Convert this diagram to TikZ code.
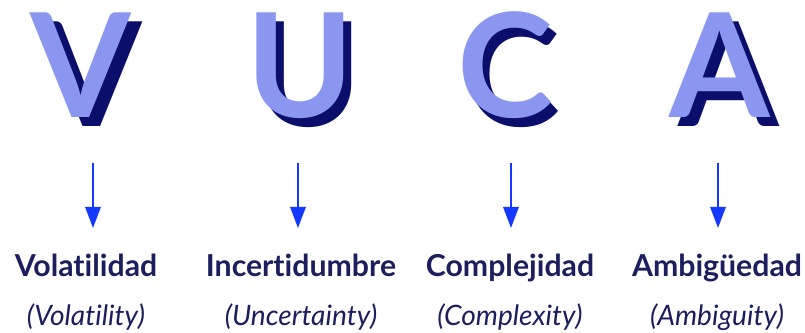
\documentclass[tikz,border=0pt]{standalone}
\usepackage{fontspec}
\setmainfont{Lato}[Ligatures={NoCommon,NoRare}]
\usetikzlibrary{arrows.meta,positioning}
\definecolor{vucalight}{HTML}{8A96F0}
\definecolor{vucadark}{HTML}{0B0E6B}
\definecolor{vucaarrow}{HTML}{1538FF}
\definecolor{vucatext}{HTML}{1C1E5E}
\tikzset{
    letter/.style = {inner sep=0pt, anchor=base, font=\fontsize{103}{103}\selectfont\bfseries, text=vucalight},
    letterback/.style = {letter, text=vucadark},
    term/.style = {inner sep=0pt, anchor=base, font=\fontsize{21.5}{21.5}\selectfont\bfseries, text=vucatext},
    gloss/.style = {inner sep=0pt, anchor=base, font=\fontsize{20}{20}\selectfont\itshape, text=vucatext},
    pointer/.style = {draw=vucaarrow, line width=1.4pt, -{Triangle[length=15pt,width=11pt]}}
}

\begin{document}
\begin{tikzpicture}[x=0.025cm, y=-0.025cm]
    \useasboundingbox (0,0) rectangle (805,332);

    % Letters (shadow first)
    \node [letterback] (v-back) at (92,126) {V};
    \node [letter] (v-letter) at (81,117) {V};
    \node [letterback] (u-back) at (308,126) {U};
    \node [letter] (u-letter) at (300,117) {U};
    \node [letterback] (c-back) at (512,126) {C};
    \node [letter] (c-letter) at (505,117) {C};
    \node [letterback] (a-back) at (729,126) {A};
    \node [letter] (a-letter) at (720,117) {A};

    % Arrows
    \coordinate (v-top) at (93,163);
    \coordinate (v-tip) at (93,228);
    \coordinate (u-top) at (298,163);
    \coordinate (u-tip) at (298,228);
    \coordinate (c-top) at (511,163);
    \coordinate (c-tip) at (511,228);
    \coordinate (a-top) at (718,163);
    \coordinate (a-tip) at (718,228);
    \draw [pointer] (v-top) -- (v-tip);
    \draw [pointer] (u-top) -- (u-tip);
    \draw [pointer] (c-top) -- (c-tip);
    \draw [pointer] (a-top) -- (a-tip);

    % Labels
    \node [term] (v-term) at (86,276) {Volatilidad};
    \node [term] (u-term) at (301,276) {Incertidumbre};
    \node [term] (c-term) at (510,276) {Complejidad};
    \node [term] (a-term) at (717,276) {Ambigüedad};
    \node [gloss] (v-gloss) at (86,325) {(Volatility)};
    \node [gloss] (u-gloss) at (301,325) {(Uncertainty)};
    \node [gloss] (c-gloss) at (510,325) {(Complexity)};
    \node [gloss] (a-gloss) at (717,325) {(Ambiguity)};
\end{tikzpicture}
\end{document}
